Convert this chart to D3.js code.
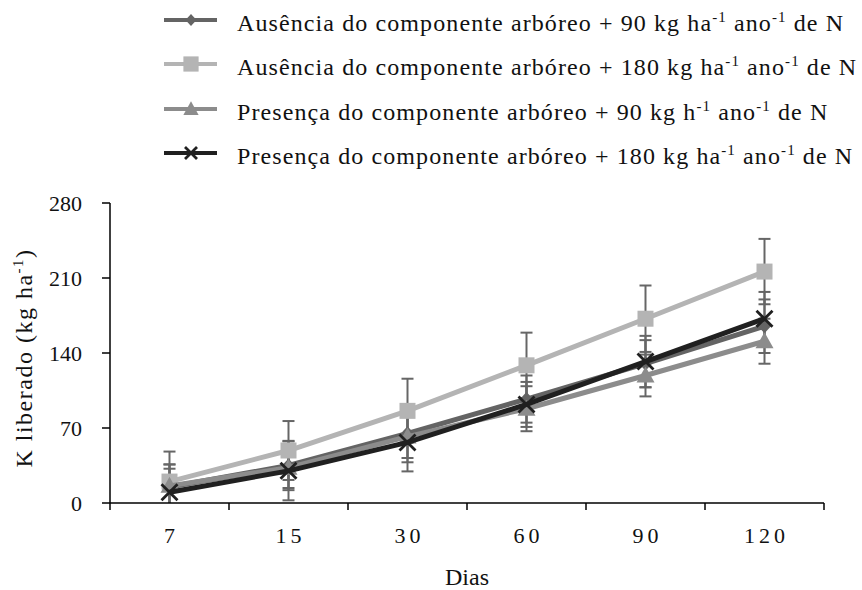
<!DOCTYPE html>
<html>
<head>
<meta charset="utf-8">
<script src="https://cdn.jsdelivr.net/npm/d3@7"></script>
<style>
  html, body { margin: 0; padding: 0; background: #fff; }
  svg { display: block; }
</style>
</head>
<body>
<svg id="chart" width="862" height="590"></svg>
<script>
// Days after the start of the experiment (x categories)
const days = ["7", "15", "30", "60", "90", "120"];
const yTicks = [0, 70, 140, 210, 280];

// Released K (kg ha-1) per treatment, with error bar half-widths
const ausencia90 = [15, 35, 65, 97, 130, 165];
const ausencia90Err = [21, 23, 23, 22, 22, 25];
const ausencia180 = [20, 49, 86, 128.5, 172, 216];
const ausencia180Err = [28, 27.5, 30, 30.5, 31, 30.5];
const presenca90 = [16, 33, 62, 88, 119, 151];
const presenca90Err = [20, 19, 24, 21, 19.5, 21];
const presenca180 = [10, 30, 56.5, 92, 132, 172];
const presenca180Err = [22, 27.5, 27, 21, 24, 25];

const seriesNames = [
  ["Ausência do componente arbóreo + 90 kg ha", "-1", " ano", "-1", " de N"],
  ["Ausência do componente arbóreo + 180 kg ha", "-1", " ano", "-1", " de N"],
  ["Presença do componente arbóreo + 90 kg h", "-1", " ano", "-1", " de N"],
  ["Presença do componente arbóreo + 180 kg ha", "-1", " ano", "-1", " de N"]
];

const series = [
  { name: seriesNames[0], values: ausencia90, err: ausencia90Err, color: "#646464", marker: "diamond" },
  { name: seriesNames[1], values: ausencia180, err: ausencia180Err, color: "#b4b4b4", marker: "square" },
  { name: seriesNames[2], values: presenca90, err: presenca90Err, color: "#8c8c8c", marker: "triangle" },
  { name: seriesNames[3], values: presenca180, err: presenca180Err, color: "#202020", marker: "cross" }
];

const FONT = '"Liberation Serif"';

const svg = d3.select("#chart");
const plotLeft = 110, plotRight = 824, plotTop = 203, plotBottom = 503;

const x = d3.scaleBand().domain(days).range([plotLeft, plotRight]).padding(0);
const y = d3.scaleLinear().domain([0, 280]).range([plotBottom, plotTop]);
const cxOf = d => x(d) + x.bandwidth() / 2;

// Marker drawing helper
function drawMarker(g, kind, color, s) {
  if (kind === "diamond") {
    g.append("path").attr("d", `M0,${-7*s}L${6.5*s},0L0,${7*s}L${-6.5*s},0Z`).attr("fill", color);
  } else if (kind === "square") {
    g.append("rect").attr("x", -8*s).attr("y", -8*s).attr("width", 16*s).attr("height", 16*s).attr("fill", color);
  } else if (kind === "triangle") {
    g.append("path").attr("d", `M0,${-9*s}L${9*s},${7*s}L${-9*s},${7*s}Z`).attr("fill", color);
  } else {
    g.append("path").attr("d", `M${-8*s},${-8*s}L${8*s},${8*s}M${8*s},${-8*s}L${-8*s},${8*s}`)
      .attr("stroke", color).attr("stroke-width", 2.8).attr("fill", "none");
  }
}

// Error bars (clipped to the plot area)
svg.append("defs").append("clipPath").attr("id", "plotClip")
  .append("rect").attr("x", plotLeft).attr("y", plotTop - 10)
  .attr("width", plotRight - plotLeft).attr("height", plotBottom - plotTop + 10);
const errG = svg.append("g").attr("clip-path", "url(#plotClip)");
series.forEach(s => {
  days.forEach((d, i) => {
    const cx = cxOf(d);
    const hi = s.values[i] + s.err[i];
    const lo = s.values[i] - s.err[i];
    errG.append("line").attr("x1", cx).attr("x2", cx).attr("y1", y(hi)).attr("y2", y(Math.max(lo, 0)))
      .attr("stroke", "#666").attr("stroke-width", 2);
    [hi, lo].filter(v => v >= 0).forEach(v => {
      errG.append("line").attr("x1", cx - 6).attr("x2", cx + 6).attr("y1", y(v)).attr("y2", y(v))
        .attr("stroke", "#666").attr("stroke-width", 2);
    });
  });
});

// Axes
const xAxis = svg.append("g");
xAxis.append("line").attr("x1", plotLeft).attr("x2", plotRight).attr("y1", plotBottom).attr("y2", plotBottom)
  .attr("stroke", "#000").attr("stroke-width", 1.5);
const xBounds = days.map(d => x(d)).concat([plotRight]);
xAxis.selectAll("line.tick").data(xBounds).enter().append("line")
  .attr("class", "tick").attr("x1", d => d).attr("x2", d => d).attr("y1", plotBottom).attr("y2", plotBottom + 7)
  .attr("stroke", "#000").attr("stroke-width", 1.5);
xAxis.selectAll("text").data(days).enter().append("text")
  .attr("x", d => cxOf(d) + 2)
  .attr("y", 543)
  .attr("text-anchor", "middle")
  .attr("font-family", FONT)
  .attr("font-size", 22)
  .attr("letter-spacing", "4px")
  .attr("fill", "#111")
  .text(d => d);

const yAxis = svg.append("g");
yAxis.append("line").attr("x1", plotLeft).attr("x2", plotLeft).attr("y1", plotTop).attr("y2", plotBottom)
  .attr("stroke", "#000").attr("stroke-width", 1.5);
yAxis.selectAll("line.tick").data(yTicks).enter().append("line")
  .attr("class", "tick").attr("x1", plotLeft - 8).attr("x2", plotLeft).attr("y1", d => y(d)).attr("y2", d => y(d))
  .attr("stroke", "#000").attr("stroke-width", 1.5);
yAxis.selectAll("text").data(yTicks).enter().append("text")
  .attr("x", 82).attr("y", d => y(d) + 8)
  .attr("text-anchor", "end").attr("font-family", FONT).attr("font-size", 22).attr("fill", "#111")
  .text(d => d);

// Axis titles
svg.append("text").attr("x", 467).attr("y", 585).attr("text-anchor", "middle")
  .attr("font-family", FONT).attr("font-size", 24).attr("fill", "#111").text("Dias");
const yt = svg.append("text").attr("transform", "translate(32,358) rotate(-90)")
  .attr("text-anchor", "middle").attr("font-family", FONT).attr("font-size", 24)
  .attr("letter-spacing", "1.5px").attr("fill", "#111");
yt.append("tspan").text("K liberado (kg ha");
yt.append("tspan").attr("font-size", 15).attr("dy", -9).text("-1");
yt.append("tspan").attr("dy", 9).text(")");

// Lines and markers
const line = d3.line().x((v, i) => cxOf(days[i])).y(v => y(v));
series.forEach(s => {
  svg.append("path").datum(s.values).attr("d", line)
    .attr("fill", "none").attr("stroke", s.color).attr("stroke-width", 5);
  s.values.forEach((v, i) => {
    const g = svg.append("g").attr("transform", `translate(${cxOf(days[i])},${y(v)})`);
    drawMarker(g, s.marker, s.color, 1);
  });
});

// Legend
const legendRows = [20, 64, 109, 153];
series.forEach((s, i) => {
  const g = svg.append("g").attr("transform", `translate(0,${legendRows[i]})`);
  g.append("line").attr("x1", 164).attr("x2", 217).attr("y1", 0).attr("y2", 0)
    .attr("stroke", s.color).attr("stroke-width", 4);
  const mg = g.append("g").attr("transform", "translate(191,0)");
  if (s.marker === "diamond") drawMarker(mg, "diamond", s.color, 0.85);
  else if (s.marker === "square") drawMarker(mg, "square", s.color, 0.95);
  else if (s.marker === "triangle") drawMarker(mg, "triangle", s.color, 0.85);
  else drawMarker(mg, "cross", s.color, 0.75);
  const t = g.append("text").attr("x", 237).attr("y", 11).attr("font-family", FONT).attr("font-size", 24)
    .attr("letter-spacing", "1.1px").attr("fill", "#111");
  t.append("tspan").text(s.name[0]);
  t.append("tspan").attr("font-size", 15).attr("dy", -9).text(s.name[1]);
  t.append("tspan").attr("dy", 9).text(s.name[2]);
  t.append("tspan").attr("font-size", 15).attr("dy", -9).text(s.name[3]);
  t.append("tspan").attr("dy", 9).text(s.name[4]);
});
</script>
</body>
</html>
